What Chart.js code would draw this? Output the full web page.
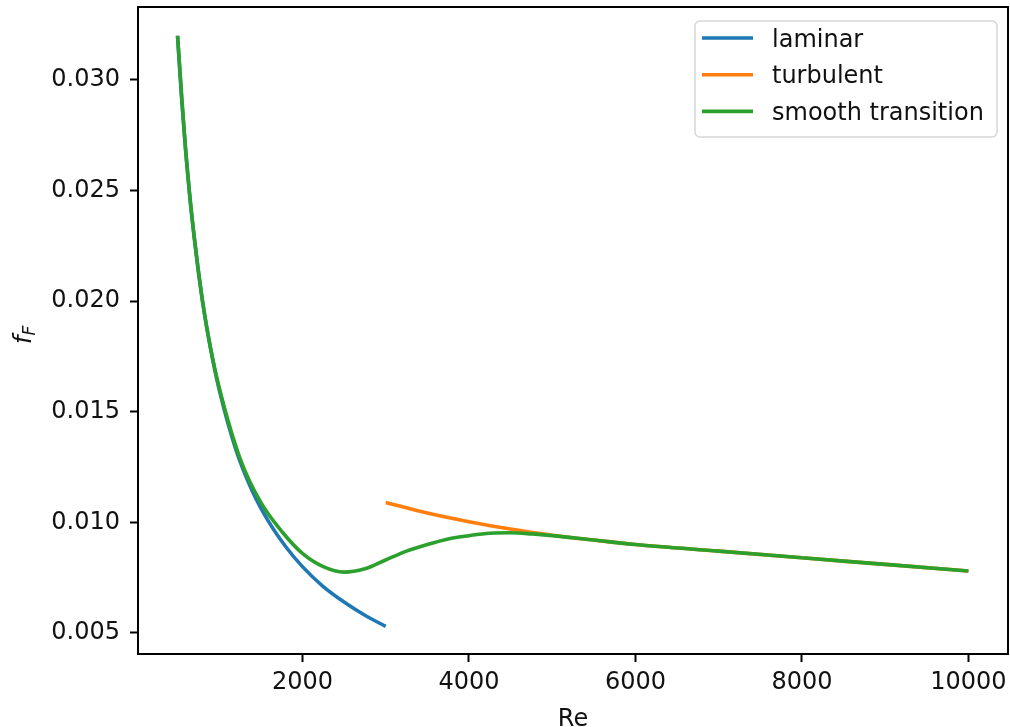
<!DOCTYPE html>
<html lang="en">
  <head>
    <meta charset="UTF-8" />
    <title>Friction factor vs Re</title>
    <style>
      html,
      body {
        margin: 0;
        padding: 0;
        background: #fff;
      }
      .chart-wrapper {
        width: 1010px;
        height: 727px;
      }
    </style>
  </head>
  <body>
    <div class="chart-wrapper">
      <canvas id="chartLine"></canvas>
    </div>
    <script src="https://cdn.jsdelivr.net/npm/chart.js"></script>
    <script>
      // values
      const laminarRe = [500, 550, 600, 650, 700, 800, 900, 1000, 1200, 1400, 1600, 1800, 2000, 2250, 2500, 2750, 3000];
      const laminarF = [0.032, 0.0291, 0.0267, 0.0246, 0.0229, 0.02, 0.0178, 0.016, 0.0133, 0.0114, 0.01, 0.0089, 0.008, 0.0071, 0.0064, 0.0058, 0.0053];

      const turbulentRe = [3000, 3500, 4000, 4500, 5000, 5500, 6000, 7000, 8000, 9000, 10000];
      const turbulentF = [0.0109, 0.01042, 0.01003, 0.0097, 0.00942, 0.0092, 0.009, 0.0087, 0.0084, 0.0081, 0.0078];

      const smoothRe = [500, 600, 700, 800, 900, 1000, 1250, 1500, 1750, 2000, 2250, 2500, 2750, 3000, 3250, 3500, 3750, 4000, 4250, 4500, 4750, 5000, 5500, 6000, 7000, 8000, 9000, 10000];
      const smoothF = [0.032, 0.0267, 0.0229, 0.02, 0.0178, 0.0161, 0.0129, 0.0109, 0.0096, 0.0086, 0.008, 0.00775, 0.0079, 0.0083, 0.0087, 0.009, 0.00925, 0.0094, 0.00951, 0.00953, 0.00948, 0.0094, 0.0092, 0.009, 0.0087, 0.0084, 0.0081, 0.0078];

      const seriesNames = ["laminar", "turbulent", "smooth transition"];
      const seriesColors = ["#1f77b4", "#ff7f0e", "#2ca02c"];

      const xTicks = [2000, 4000, 6000, 8000, 10000];
      const yTicks = [0.005, 0.01, 0.015, 0.02, 0.025, 0.03];

      const toPoints = (xs, ys) => xs.map((x, i) => ({ x: x, y: ys[i] }));

      Chart.defaults.font.family = "'DejaVu Sans', sans-serif";
      Chart.defaults.font.size = 24;
      Chart.defaults.color = "#111";

      // frame, legend box and axis titles, drawn matplotlib style
      const decorations = {
        id: "decorations",
        afterDatasetsDraw(chart) {
          const ctx = chart.ctx;
          const a = chart.chartArea;
          ctx.save();
          ctx.strokeStyle = "#000";
          ctx.lineWidth = 2;
          ctx.strokeRect(a.left, a.top, a.right - a.left, a.bottom - a.top);

          // legend
          ctx.beginPath();
          ctx.roundRect(695, 21, 302, 116, 5);
          ctx.fillStyle = "rgba(255,255,255,0.8)";
          ctx.fill();
          ctx.strokeStyle = "#d6d6d6";
          ctx.lineWidth = 1.5;
          ctx.stroke();
          ctx.font = "24px 'DejaVu Sans'";
          ctx.textBaseline = "alphabetic";
          ctx.textAlign = "left";
          chart.data.datasets.forEach((ds, i) => {
            const y = 38 + i * 36.7;
            ctx.beginPath();
            ctx.moveTo(702, y);
            ctx.lineTo(753, y);
            ctx.strokeStyle = ds.borderColor;
            ctx.lineWidth = 3.6;
            ctx.stroke();
            ctx.fillStyle = "#111";
            ctx.fillText(ds.label, 772, y + 8.5);
          });

          // x title
          ctx.textAlign = "center";
          ctx.fillText("Re", (a.left + a.right) / 2, 726);

          // y title f_F
          ctx.translate(31, 344);
          ctx.rotate(-Math.PI / 2);
          ctx.textAlign = "left";
          ctx.font = "italic 24px 'DejaVu Sans'";
          ctx.fillText("f", 0, 0);
          const w = ctx.measureText("f").width;
          ctx.font = "italic 17px 'DejaVu Sans'";
          ctx.fillText("F", w, 3.5);
          ctx.restore();
        },
      };

      new Chart(document.getElementById("chartLine"), {
        type: "line",
        data: {
          datasets: [
            { label: seriesNames[0], data: toPoints(laminarRe, laminarF), borderColor: seriesColors[0], order: 2 },
            { label: seriesNames[1], data: toPoints(turbulentRe, turbulentF), borderColor: seriesColors[1], order: 1 },
            { label: seriesNames[2], data: toPoints(smoothRe, smoothF), borderColor: seriesColors[2], order: 0 },
          ],
        },
        options: {
          responsive: true,
          maintainAspectRatio: false,
          animation: false,
          layout: { padding: { top: 7, right: 2, left: 0, bottom: 0 } },
          elements: {
            point: { radius: 0, hoverRadius: 0 },
            line: { borderWidth: 3.6, cubicInterpolationMode: "monotone", fill: false },
          },
          scales: {
            x: {
              type: "linear",
              min: 25,
              max: 10475,
              border: { display: false },
              grid: { drawOnChartArea: false, tickLength: 8, tickColor: "#000", tickWidth: 2 },
              ticks: { padding: 6, maxRotation: 0, callback: (v) => String(v) },
              afterBuildTicks: (scale) => {
                scale.ticks = xTicks.map((v) => ({ value: v }));
              },
              afterFit: (scale) => {
                scale.height = 73;
                scale.paddingLeft = 0;
                scale.paddingRight = 0;
              },
            },
            y: {
              type: "linear",
              min: 0.00405,
              max: 0.0333,
              border: { display: false },
              grid: { drawOnChartArea: false, tickLength: 8, tickColor: "#000", tickWidth: 2 },
              ticks: {
                padding: 10,
                callback: (v) => v.toFixed(3),
              },
              afterBuildTicks: (scale) => {
                scale.ticks = yTicks.map((v) => ({ value: v }));
              },
              afterFit: (scale) => {
                scale.width = 138;
                scale.paddingTop = 0;
                scale.paddingBottom = 0;
              },
            },
          },
          plugins: {
            legend: { display: false },
            tooltip: { enabled: false },
          },
        },
        plugins: [decorations],
      });
    </script>
  </body>
</html>
